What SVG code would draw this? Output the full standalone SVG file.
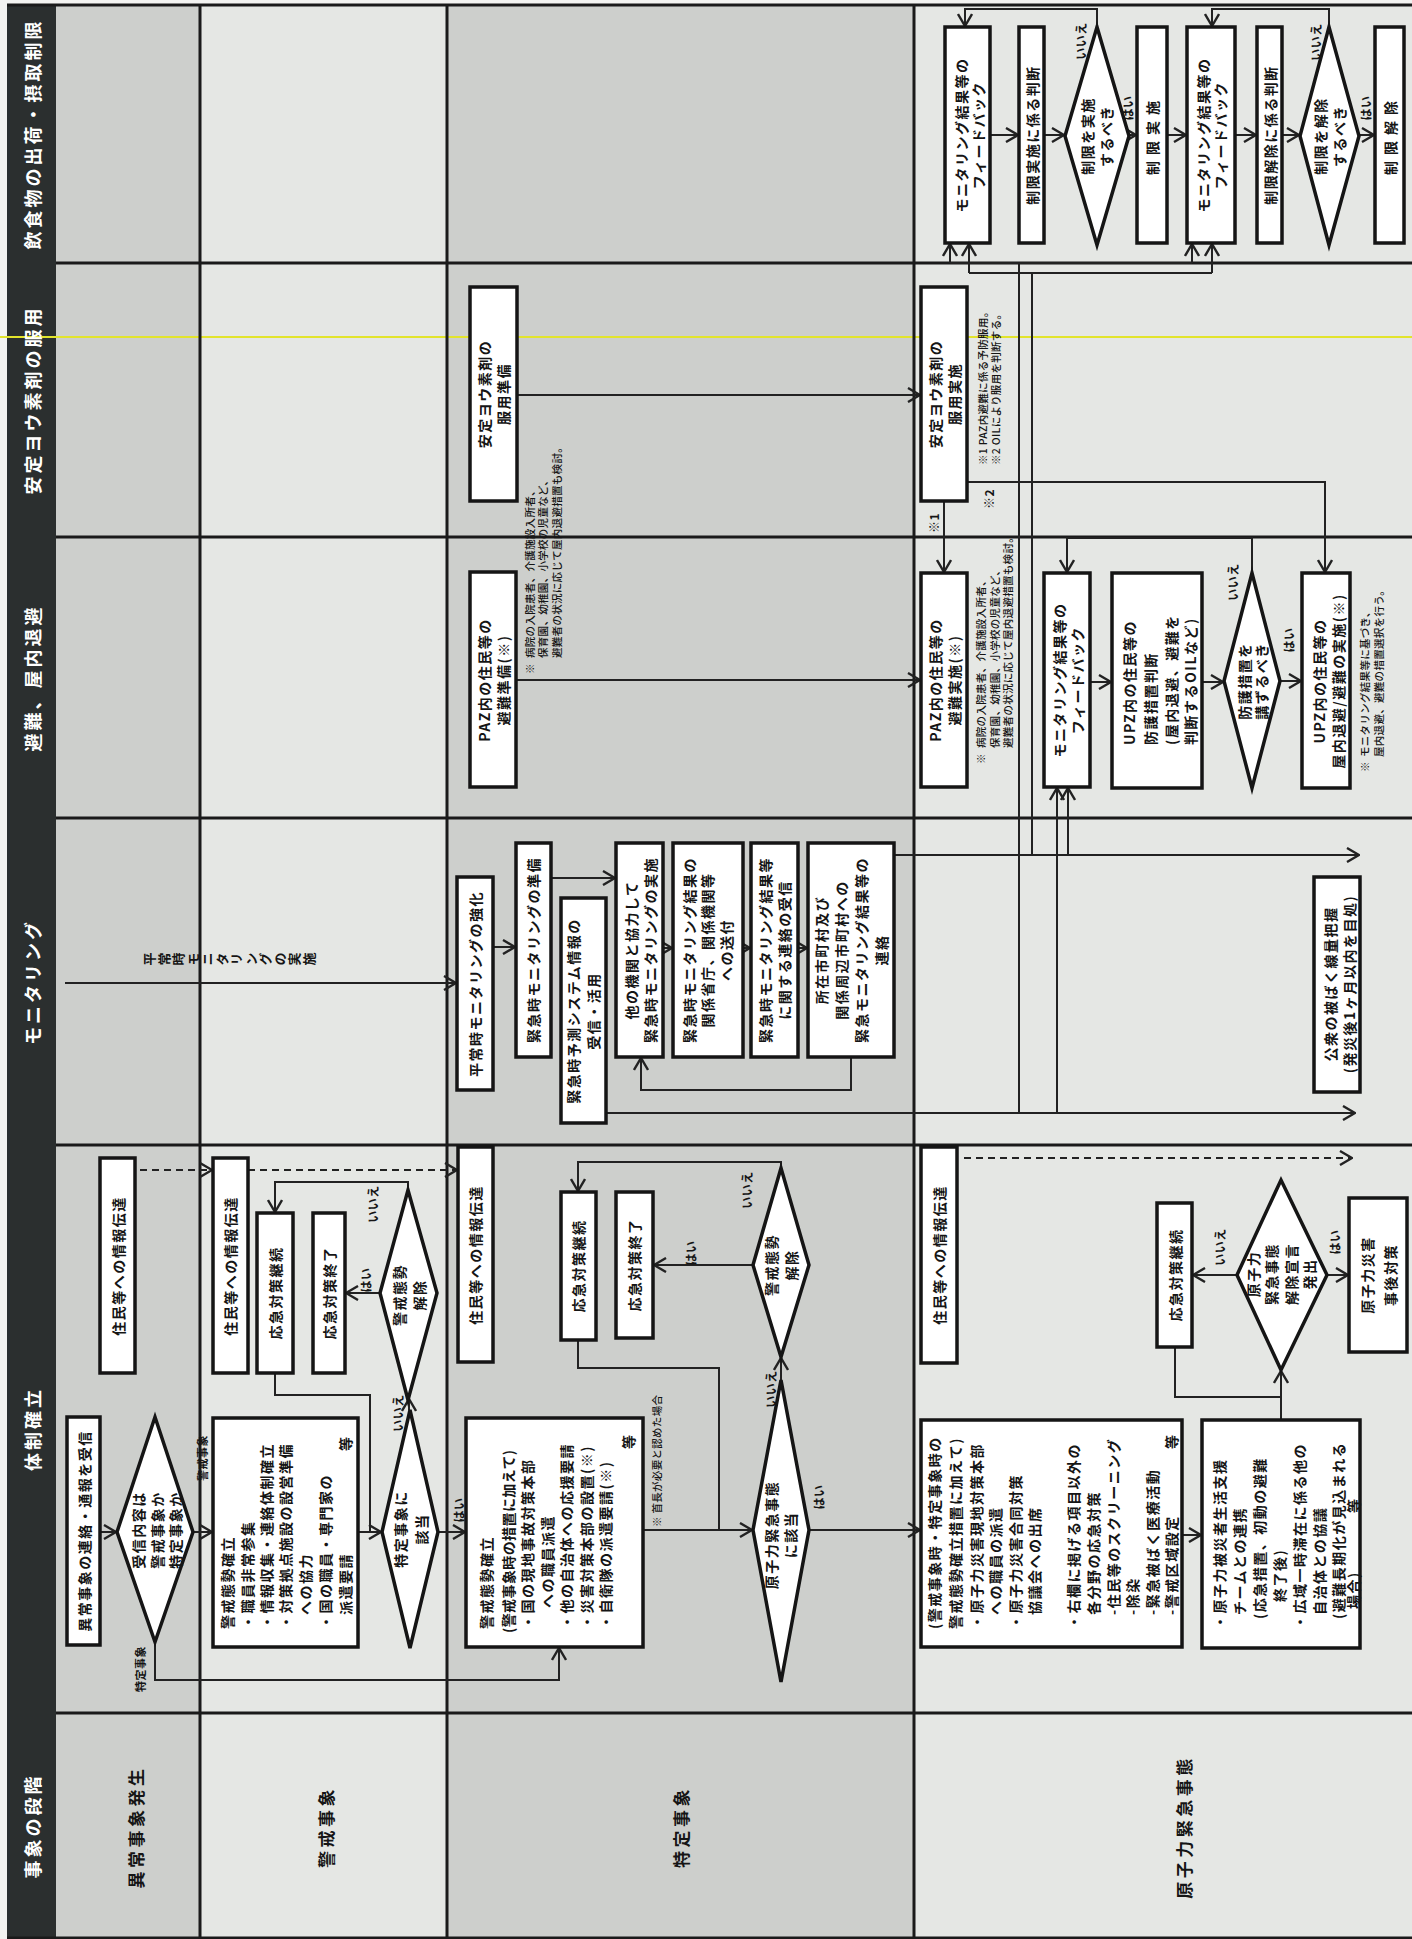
<svg xmlns="http://www.w3.org/2000/svg" width="1412" height="1939" viewBox="0 0 1412 1939">
<defs>
<style>
.bx{fill:#fff;stroke:#151515;stroke-width:3.5}
.t{font-family:"Noto Sans CJK JP","Noto Sans CJK SC",sans-serif;font-size:14px;font-weight:700;fill:#151515;text-anchor:middle;dominant-baseline:central;letter-spacing:1.5px}
.l{text-anchor:start}
.nt{font-size:10.5px;font-weight:500;letter-spacing:0.3px}
.lb{font-size:12px;letter-spacing:0.5px}
.hd{fill:#fff;font-size:18px;letter-spacing:3px}
.st{font-size:17px;letter-spacing:3.5px}
.c{fill:none;stroke:#222;stroke-width:2}
.a{marker-end:url(#ah)}
.d{stroke-dasharray:7 5}
.g{stroke:#1a1a1a;stroke-width:3;fill:none}
</style>
<marker id="ah" viewBox="0 0 14 16" refX="13" refY="8" markerWidth="14" markerHeight="16" markerUnits="userSpaceOnUse" orient="auto">
<path d="M1,1 L13,8 L1,15" fill="none" stroke="#222" stroke-width="2.4"/>
</marker>
</defs>
<rect x="0" y="0" width="1412" height="1939" fill="#f3f3f1"/>
<g transform="translate(0,1939) rotate(-90)">
<!-- backgrounds -->
<g id="bands">
<rect x="1" y="55" width="1933" height="145" fill="#cdcfcc"/>
<rect x="1" y="200" width="1933" height="247" fill="#e5e7e4"/>
<rect x="1" y="447" width="1933" height="467" fill="#cdcfcc"/>
<rect x="1" y="914" width="1933" height="498" fill="#e5e7e4"/>
<rect x="1" y="7" width="1933" height="49" fill="#2b2f2f"/>
<line x1="1602" y1="0" x2="1602" y2="1412" stroke="#e2e42c" stroke-width="2"/>
</g>
<g id="grid" class="g">
<path d="M1934,7V1412M1676,56V1412M1402,56V1412M1121,56V1412M794,56V1412M226,56V1412M1,7V1412"/>
<path d="M1,200H1934M1,447H1934M1,914H1934"/>
</g>
<g id="headers">
<text class="t hd" x="113" y="32">事象の段階</text>
<text class="t hd" x="510" y="32">体制確立</text>
<text class="t hd" x="957" y="32">モニタリング</text>
<text class="t hd" x="1261" y="32">避難、屋内退避</text>
<text class="t hd" x="1539" y="32">安定ヨウ素剤の服用</text>
<text class="t hd" x="1805" y="32">飲食物の出荷・摂取制限</text>
<text class="t st" x="112" y="135">異常事象発生</text>
<text class="t st" x="112" y="325">警戒事象</text>
<text class="t st" x="112" y="680">特定事象</text>
<text class="t st" x="112" y="1183">原子力緊急事態</text>
</g>

<!-- connectors -->
<g id="connectors">
<!-- 飲食物 -->
<path class="c a" d="M1804,990V1018"/>
<path class="c a" d="M1804,1044V1064"/>
<path class="c a" d="M1804,1129V1136"/>
<path class="c a" d="M1804,1167V1186"/>
<path class="c a" d="M1804,1235V1256"/>
<path class="c a" d="M1804,1282V1299"/>
<path class="c a" d="M1804,1359V1374"/>
<path class="c a" d="M1912,1097H1930V965H1913"/>
<path class="c a" d="M1912,1329H1930V1212H1913"/>
<path class="c" d="M826,1019H1676M1676,950V1192M1666,969V1212M1084,1032H1666"/>
<path class="c a" d="M1676,950H1695"/>
<path class="c a" d="M1676,1192H1695"/>
<path class="c a" d="M1666,969H1695"/>
<path class="c a" d="M1666,1212H1695"/>
<!-- 安定ヨウ素剤 -->
<path class="c a" d="M1544,517V920"/>
<path class="c a" d="M1438,944H1367"/>
<path class="c a" d="M1457,967V1325H1367"/>
<!-- 避難 -->
<path class="c a" d="M1259,516V920"/>
<path class="c a" d="M1257,1090V1111"/>
<path class="c a" d="M1257,1202V1223"/>
<path class="c a" d="M1258,1280V1301"/>
<path class="c a" d="M1366,1252H1401V1067H1367"/>
<path class="c a" d="M826,1057H1151"/>
<path class="c a" d="M1084,1068H1151"/>
<!-- モニタリング -->
<path class="c a" d="M956,65V456"/>
<path class="c a" d="M992,493V515"/>
<path class="c a" d="M1061,551V615"/>
<path class="c a" d="M991,663V672"/>
<path class="c a" d="M991,743V750"/>
<path class="c a" d="M991,798V807"/>
<path class="c a" d="M882,851H849V641H881"/>
<path class="c a" d="M1084,894V1359"/>
<path class="c a" d="M826,606V1355"/>
<!-- 体制確立 -->
<path class="c a" d="M407,100V116"/>
<path class="c a" d="M407,193V212"/>
<path class="c a" d="M297,155H259V559H291"/>
<path class="c a" d="M407,358V381"/>
<path class="c" d="M566,275H544V370H407"/>
<path class="c a" d="M529,409H540"/>
<path class="c a" d="M646,380V346"/>
<path class="c a" d="M749,408H757V275H727"/>
<path class="c a" d="M407,438V465"/>
<path class="c a" d="M409,643V752"/>
<path class="c" d="M599,578H571V719H409"/>
<path class="c a" d="M559,781H581"/>
<path class="c a" d="M674,753V654"/>
<path class="c a" d="M771,781H777V578H748"/>
<path class="c a" d="M409,809V920"/>
<path class="c a" d="M404,1182V1201"/>
<path class="c a" d="M519,1281H568"/>
<path class="c" d="M592,1175H542V1281"/>
<path class="c a" d="M664,1237V1193"/>
<path class="c a" d="M664,1327V1348"/>
<path class="c a d" d="M769,140V212"/>
<path class="c a d" d="M769,248V457"/>
<path class="c a d" d="M781,964V1352"/>
</g>

<!-- connector labels -->
<g id="labels">
<text class="t lb" x="1831" y="1127">はい</text>
<text class="t lb" x="1831" y="1365">はい</text>
<text class="t lb" x="1898" y="1080">いいえ</text>
<text class="t lb" x="1897" y="1315">いいえ</text>
<text class="t lb" x="1299" y="1288">はい</text>
<text class="t lb" x="1357" y="1232">いいえ</text>
<text class="t lb" x="1416" y="933">※1</text>
<text class="t lb" x="1440" y="988">※2</text>
<text class="t" x="980" y="143" style="writing-mode:vertical-rl;text-anchor:start;font-size:13px;letter-spacing:1.5px">平常時モニタリングの実施</text>
<text class="t lb" x="481" y="202" style="font-size:11px">警戒事象</text>
<text class="t lb" x="270" y="140" style="font-size:11px">特定事象</text>
<text class="t lb" x="526" y="397">いいえ</text>
<text class="t lb" x="659" y="365">はい</text>
<text class="t lb" x="735" y="372">いいえ</text>
<text class="t lb" x="429" y="458">はい</text>
<text class="t lb" x="550" y="770">いいえ</text>
<text class="t lb" x="686" y="690">はい</text>
<text class="t lb" x="749" y="746">いいえ</text>
<text class="t lb" x="442" y="818">はい</text>
<text class="t lb" x="692" y="1219">いいえ</text>
<text class="t lb" x="697" y="1334">はい</text>
</g>

<!-- 飲食物 nodes -->
<g id="fb1"><rect class="bx" x="1696" y="945" width="216" height="45"/><text class="t" x="1804" y="961">モニタリング結果等の</text><text class="t" x="1804" y="978">フィードバック</text></g>
<g id="j1"><rect class="bx" x="1696" y="1019" width="216" height="25"/><text class="t" x="1804" y="1031.5">制限実施に係る判断</text></g>
<g id="d1"><polygon class="bx" points="1694,1097 1803,1065 1912,1097 1803,1129"/><text class="t" x="1803" y="1087">制限を実施</text><text class="t" x="1803" y="1106">するべき</text></g>
<g id="r1"><rect class="bx" x="1696" y="1137" width="216" height="30"/><text class="t" x="1804" y="1152" style="letter-spacing:6px">制限実施</text></g>
<g id="fb2"><rect class="bx" x="1696" y="1187" width="216" height="48"/><text class="t" x="1804" y="1203">モニタリング結果等の</text><text class="t" x="1804" y="1220">フィードバック</text></g>
<g id="j2"><rect class="bx" x="1696" y="1257" width="216" height="25"/><text class="t" x="1804" y="1269.5">制限解除に係る判断</text></g>
<g id="d2"><polygon class="bx" points="1694,1329 1803,1300 1912,1329 1803,1359"/><text class="t" x="1803" y="1320">制限を解除</text><text class="t" x="1803" y="1339">するべき</text></g>
<g id="r2"><rect class="bx" x="1696" y="1375" width="216" height="29"/><text class="t" x="1804" y="1390" style="letter-spacing:6px">制限解除</text></g>

<!-- 安定ヨウ素剤 nodes -->
<g id="iodine-prep"><rect class="bx" x="1438" y="470" width="214" height="47"/><text class="t" x="1545" y="484">安定ヨウ素剤の</text><text class="t" x="1545" y="503">服用準備</text></g>
<g id="iodine-do"><rect class="bx" x="1438" y="921" width="214" height="46"/><text class="t" x="1545" y="935">安定ヨウ素剤の</text><text class="t" x="1545" y="954">服用実施</text></g>
<g id="iodine-note"><text class="t nt l" x="1474" y="982">※1  PAZ内避難に係る予防服用。</text><text class="t nt l" x="1474" y="995">※2  OILにより服用を判断する。</text></g>

<!-- 避難 nodes -->
<g id="paz-prep"><rect class="bx" x="1152" y="470" width="215" height="46"/><text class="t" x="1259" y="484">PAZ内の住民等の</text><text class="t" x="1259" y="503">避難準備(※)</text></g>
<g id="note1"><text class="t nt l" x="1265" y="529">※</text><text class="t nt l" x="1281" y="529">病院の入院患者、介護施設入所者、</text><text class="t nt l" x="1281" y="542">保育園、幼稚園、小学校の児童など、</text><text class="t nt l" x="1281" y="556">避難者の状況に応じて屋内退避措置も検討。</text></g>
<g id="paz-do"><rect class="bx" x="1152" y="921" width="214" height="46"/><text class="t" x="1259" y="935">PAZ内の住民等の</text><text class="t" x="1259" y="954">避難実施(※)</text></g>
<g id="note2"><text class="t nt l" x="1175" y="980">※</text><text class="t nt l" x="1191" y="980">病院の入院患者、介護施設入所者、</text><text class="t nt l" x="1191" y="994">保育園、幼稚園、小学校の児童など、</text><text class="t nt l" x="1191" y="1007">避難者の状況に応じて屋内退避措置も検討。</text></g>
<g id="fb3"><rect class="bx" x="1152" y="1044" width="214" height="46"/><text class="t" x="1259" y="1059">モニタリング結果等の</text><text class="t" x="1259" y="1077">フィードバック</text></g>
<g id="upz-judge"><rect class="bx" x="1151" y="1112" width="215" height="90"/><text class="t l" x="1194" y="1129">UPZ内の住民等の</text><text class="t l" x="1194" y="1150">防護措置判断</text><text class="t l" x="1194" y="1171">(屋内退避、避難を</text><text class="t l" x="1194" y="1190">判断するOILなど)</text></g>
<g id="d3"><polygon class="bx" points="1151,1252 1258,1224 1366,1252 1258,1280"/><text class="t" x="1258" y="1244">防護措置を</text><text class="t" x="1258" y="1261">講ずるべき</text></g>
<g id="upz-do"><rect class="bx" x="1151" y="1302" width="215" height="48"/><text class="t" x="1258" y="1319">UPZ内の住民等の</text><text class="t" x="1258" y="1338">屋内退避/避難の実施(※)</text></g>
<g id="note3"><text class="t nt l" x="1167" y="1364">※</text><text class="t nt l" x="1182" y="1364">モニタリング結果等に基づき、</text><text class="t nt l" x="1182" y="1378">屋内退避、避難の措置選択を行う。</text></g>

<!-- モニタリング nodes -->
<g id="mon-normal"><rect class="bx" x="849" y="457" width="213" height="36"/><text class="t" x="955" y="475">平常時モニタリングの強化</text></g>
<g id="mon-prep"><rect class="bx" x="882" y="516" width="214" height="35"/><text class="t" x="989" y="533">緊急時モニタリングの準備</text></g>
<g id="mon-pred"><rect class="bx" x="816" y="561" width="225" height="45"/><text class="t" x="928" y="573">緊急時予測システム情報の</text><text class="t" x="928" y="593">受信・活用</text></g>
<g id="mon-do"><rect class="bx" x="882" y="616" width="214" height="47"/><text class="t" x="989" y="631">他の機関と協力して</text><text class="t" x="989" y="650">緊急時モニタリングの実施</text></g>
<g id="mon-send"><rect class="bx" x="882" y="673" width="214" height="70"/><text class="t" x="989" y="689">緊急時モニタリング結果の</text><text class="t" x="989" y="707">関係省庁、関係機関等</text><text class="t" x="989" y="726">への送付</text></g>
<g id="mon-recv"><rect class="bx" x="882" y="751" width="214" height="47"/><text class="t" x="989" y="765">緊急時モニタリング結果等</text><text class="t" x="989" y="784">に関する連絡の受信</text></g>
<g id="mon-notify"><rect class="bx" x="882" y="808" width="214" height="86"/><text class="t" x="989" y="821">所在市町村及び</text><text class="t" x="989" y="841">関係周辺市町村への</text><text class="t" x="989" y="861">緊急モニタリング結果等の</text><text class="t" x="989" y="881">連絡</text></g>
<g id="mon-dose"><rect class="bx" x="847" y="1314" width="215" height="46"/><text class="t" x="955" y="1330">公衆の被ばく線量把握</text><text class="t" x="955" y="1349">(発災後1ヶ月以内を目処)</text></g>

<!-- 体制確立 nodes -->
<g id="info1"><rect class="bx" x="566" y="100" width="215" height="35"/><text class="t" x="673" y="118">住民等への情報伝達</text></g>
<g id="recv"><rect class="bx" x="294" y="67" width="228" height="33"/><text class="t" x="408" y="84">異常事象の連絡・通報を受信</text></g>
<g id="d-recv"><polygon class="bx" points="297,155 407,117 522,155 407,193"/><text class="t" x="409" y="138">受信内容は</text><text class="t" x="409" y="157">警戒事象か</text><text class="t" x="409" y="175">特定事象か</text></g>
<g id="alert1"><rect class="bx" x="292" y="213" width="229" height="145"/>
<text class="t l" x="310" y="227">警戒態勢確立</text>
<text class="t l" x="310" y="247">・職員非常参集</text>
<text class="t l" x="310" y="266">・情報収集・連絡体制確立</text>
<text class="t l" x="310" y="285">・対策拠点施設の設営準備</text>
<text class="t l" x="324" y="305">への協力</text>
<text class="t l" x="310" y="325">・国の職員・専門家の</text>
<text class="t l" x="324" y="345">派遣要請</text>
<text class="t l" x="488" y="345">等</text></g>
<g id="info2"><rect class="bx" x="566" y="213" width="215" height="35"/><text class="t" x="673" y="230">住民等への情報伝達</text></g>
<g id="cont1"><rect class="bx" x="566" y="257" width="160" height="36"/><text class="t" x="646" y="275">応急対策継続</text></g>
<g id="end1"><rect class="bx" x="566" y="313" width="160" height="32"/><text class="t" x="646" y="329">応急対策終了</text></g>
<g id="d-lift1"><polygon class="bx" points="539,408 646,380 749,408 646,437"/><text class="t" x="644" y="399">警戒態勢</text><text class="t" x="644" y="419">解除</text></g>
<g id="d-specific"><polygon class="bx" points="291,410 407,382 529,410 407,438"/><text class="t" x="410" y="400">特定事象に</text><text class="t" x="410" y="421">該当</text></g>
<g id="info3"><rect class="bx" x="577" y="458" width="215" height="35"/><text class="t" x="684" y="475">住民等への情報伝達</text></g>
<g id="alert2"><rect class="bx" x="292" y="466" width="229" height="177"/>
<text class="t l" x="310" y="486">警戒態勢確立</text>
<text class="t l" x="306" y="508" style="letter-spacing:0.4px">(警戒事象時の措置に加えて)</text>
<text class="t l" x="310" y="527">・国の現地事故対策本部</text>
<text class="t l" x="331" y="547">への職員派遣</text>
<text class="t l" x="310" y="566">・他の自治体への応援要請</text>
<text class="t l" x="310" y="586">・災害対策本部の設置(※)</text>
<text class="t l" x="310" y="605">・自衛隊の派遣要請(※)</text>
<text class="t l" x="490" y="628">等</text></g>
<g id="note-chief"><text class="t nt l" x="412" y="656">※  首長が必要と認めた場合</text></g>
<g id="cont2"><rect class="bx" x="599" y="561" width="148" height="35"/><text class="t" x="673" y="578">応急対策継続</text></g>
<g id="end2"><rect class="bx" x="601" y="616" width="146" height="37"/><text class="t" x="674" y="634">応急対策終了</text></g>
<g id="d-lift2"><polygon class="bx" points="582,781 674,753 771,781 674,809"/><text class="t" x="674" y="771">警戒態勢</text><text class="t" x="674" y="791">解除</text></g>
<g id="d-nuclear"><polygon class="bx" points="257,781 409,753 559,781 409,809"/><text class="t" x="404" y="771">原子力緊急事態</text><text class="t" x="404" y="790">に該当</text></g>
<g id="info4"><rect class="bx" x="576" y="921" width="216" height="36"/><text class="t" x="684" y="939">住民等への情報伝達</text></g>
<g id="emerg1"><rect class="bx" x="292" y="921" width="227" height="261"/>
<text class="t l" x="310" y="934">(警戒事象時・特定事象時の</text>
<text class="t l" x="310" y="955">警戒態勢確立措置に加えて)</text>
<text class="t l" x="310" y="976">・原子力災害現地対策本部</text>
<text class="t l" x="324" y="995">への職員の派遣</text>
<text class="t l" x="310" y="1015">・原子力災害合同対策</text>
<text class="t l" x="324" y="1034">協議会への出席</text>
<text class="t l" x="310" y="1073">・右欄に掲げる項目以外の</text>
<text class="t l" x="324" y="1093">各分野の応急対策</text>
<text class="t l" x="324" y="1113">-住民等のスクリーニング</text>
<text class="t l" x="324" y="1132">-除染</text>
<text class="t l" x="324" y="1152">-緊急被ばく医療活動</text>
<text class="t l" x="324" y="1171">-警戒区域設定</text>
<text class="t l" x="490" y="1171">等</text></g>
<g id="emerg2"><rect class="bx" x="291" y="1202" width="228" height="158"/>
<text class="t l" x="310" y="1219">・原子力被災者生活支援</text>
<text class="t l" x="324" y="1239">チームとの連携</text>
<text class="t l" x="320" y="1259">(応急措置、初動の避難</text>
<text class="t l" x="337" y="1279">終了後)</text>
<text class="t l" x="310" y="1299">・広域一時滞在に係る他の</text>
<text class="t l" x="324" y="1319">自治体との協議</text>
<text class="t l" x="320" y="1338">(避難長期化が見込まれる</text>
<text class="t l" x="330" y="1353">場合)</text>
<text class="t l" x="426" y="1353">等</text></g>
<g id="cont3"><rect class="bx" x="592" y="1157" width="144" height="35"/><text class="t" x="664" y="1175">応急対策継続</text></g>
<g id="d-release"><polygon class="bx" points="569,1281 664,1237 759,1281 664,1327"/><text class="t" x="665" y="1253">原子力</text><text class="t" x="665" y="1271">緊急事態</text><text class="t" x="665" y="1291">解除宣言</text><text class="t" x="665" y="1309">発出</text></g>
<g id="post"><rect class="bx" x="587" y="1349" width="154" height="58"/><text class="t" x="664" y="1367">原子力災害</text><text class="t" x="664" y="1390">事後対策</text></g>
</g>
</svg>
